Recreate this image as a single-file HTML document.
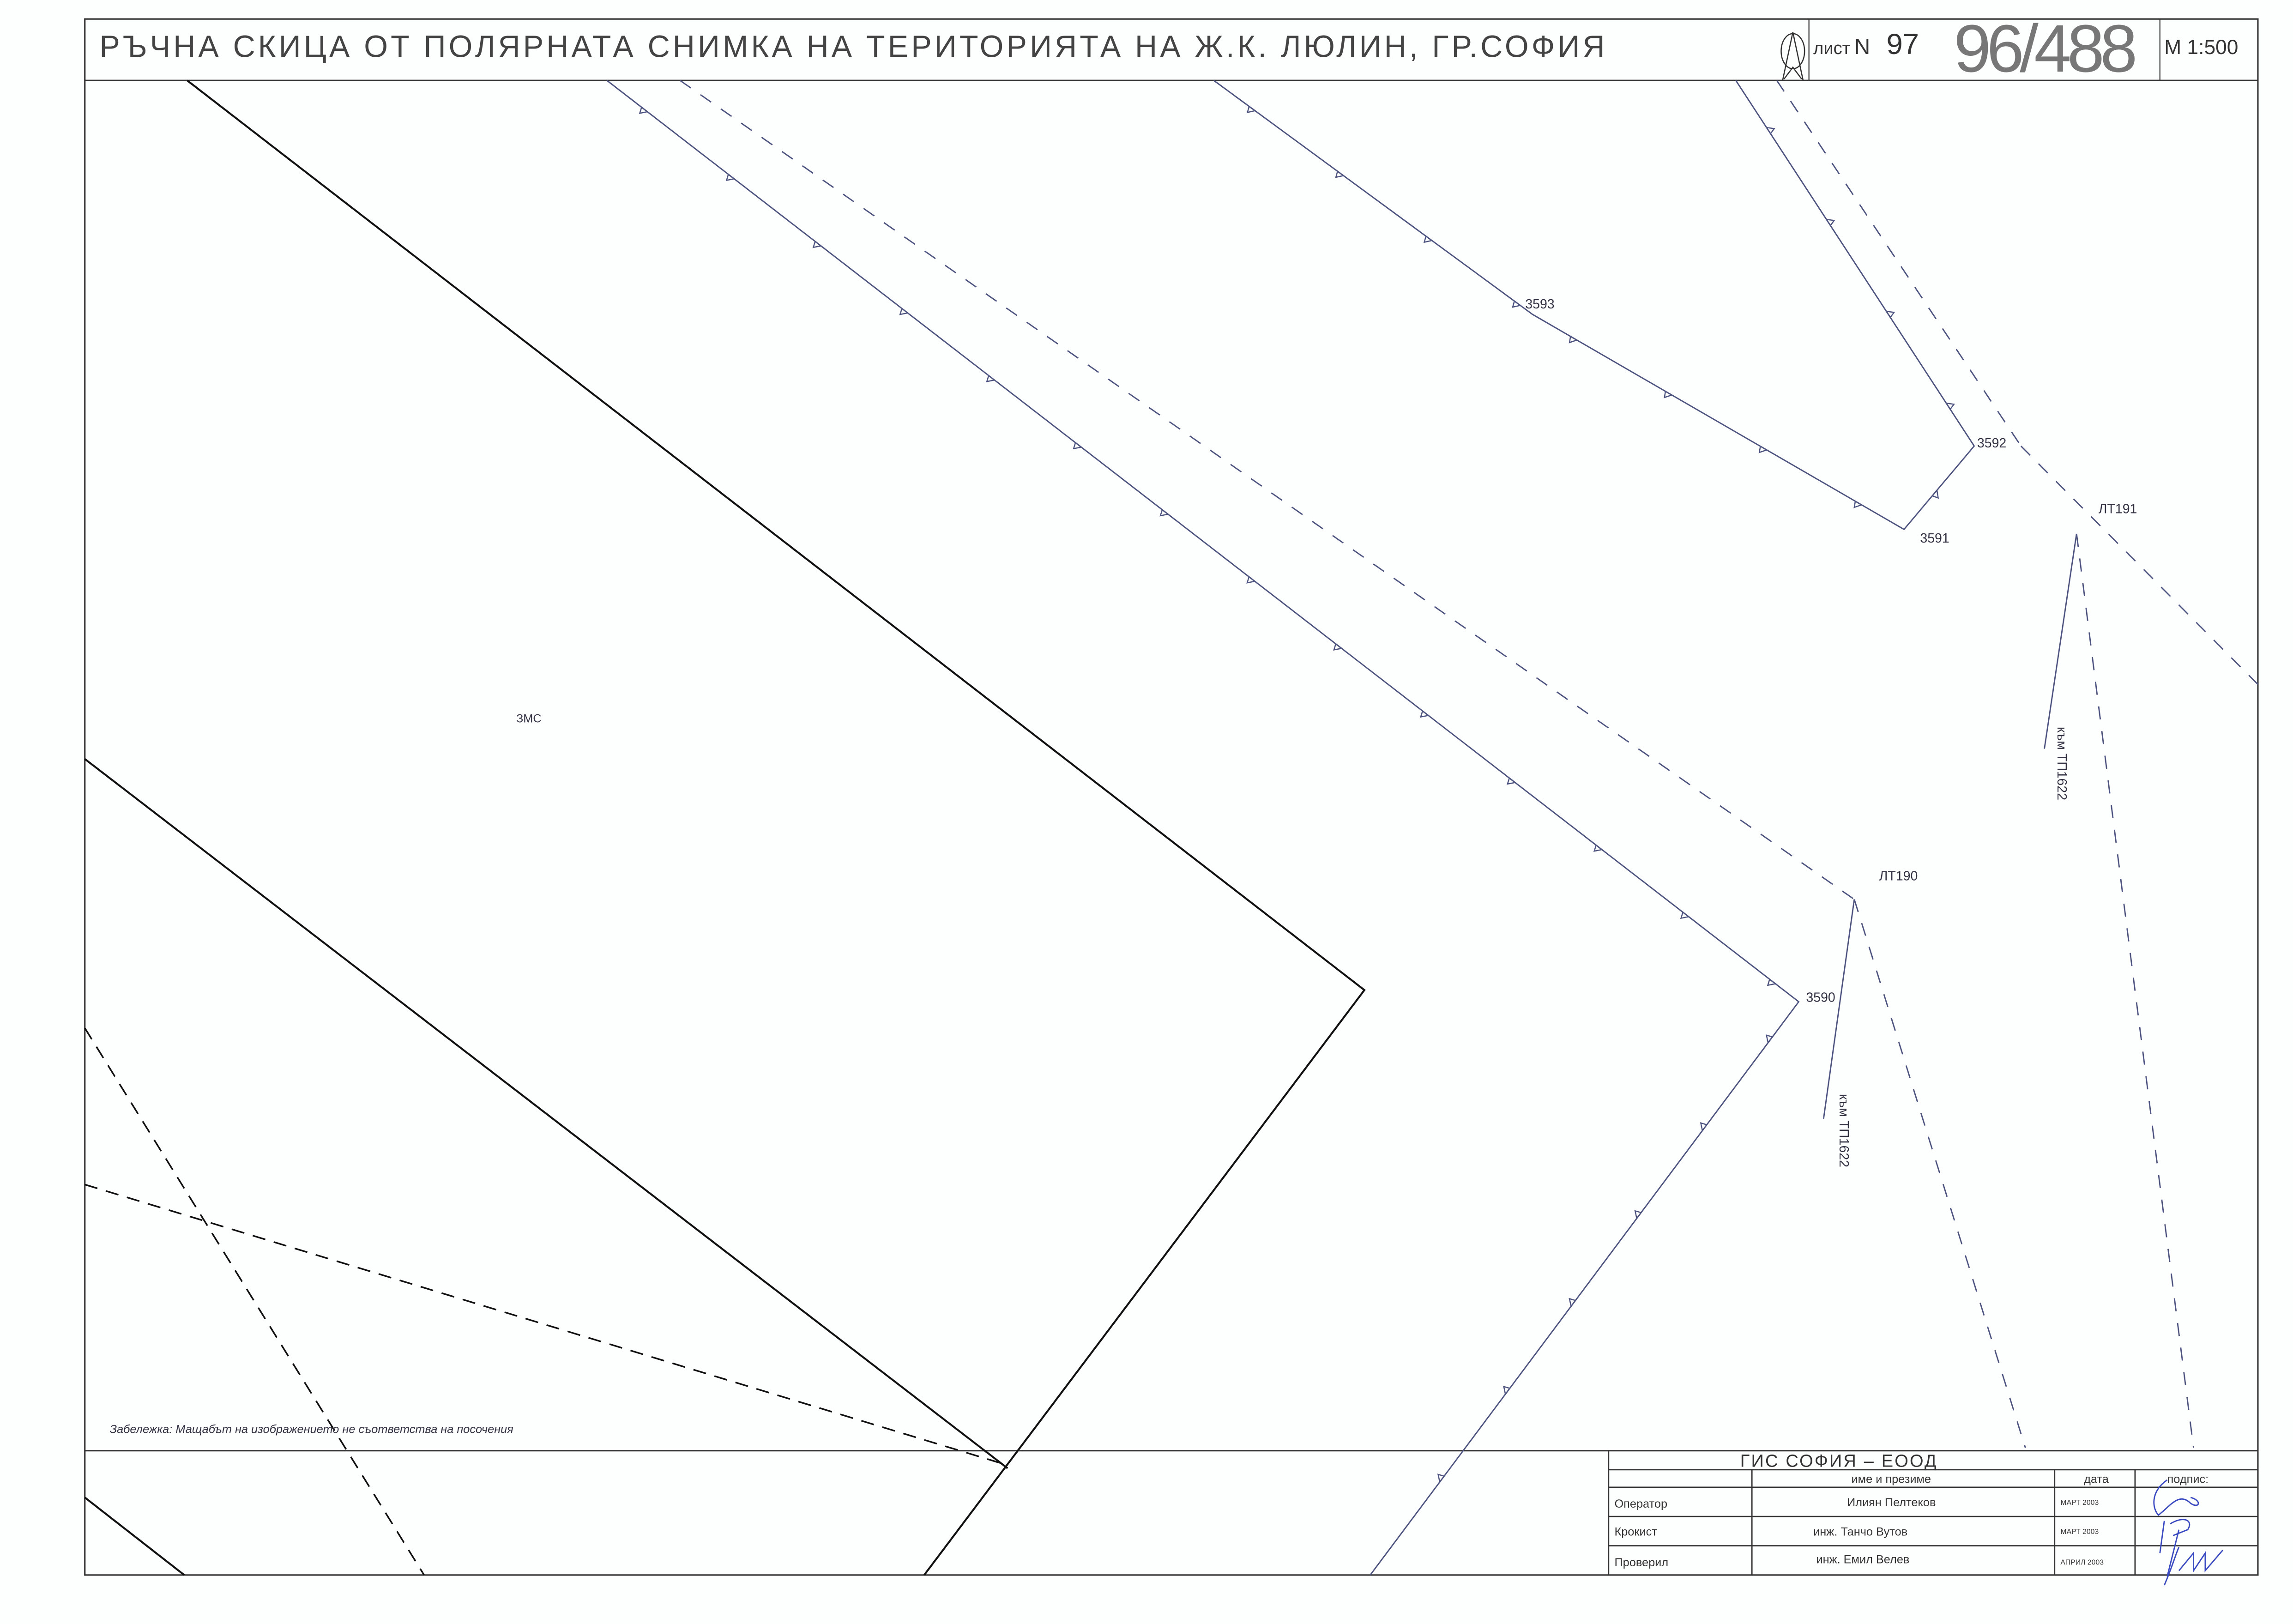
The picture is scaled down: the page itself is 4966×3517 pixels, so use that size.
<!DOCTYPE html>
<html><head><meta charset="utf-8"><style>
html,body{margin:0;padding:0;background:#fdfefe;}
svg{display:block;}
text{font-family:"Liberation Sans","DejaVu Sans",sans-serif;}
</style></head><body>
<svg id="s" width="4966" height="3517" viewBox="0 0 1568 1110.5" xmlns="http://www.w3.org/2000/svg">
<rect width="1568" height="1111" fill="#fdfefe"/>
<g fill="none" stroke="#333" stroke-width="1">
<rect x="58" y="13" width="1486" height="1064"/>
<line x1="58" y1="55" x2="1544" y2="55"/>
<line x1="1237" y1="13" x2="1237" y2="55" stroke-width="0.7"/>
<line x1="1477" y1="13" x2="1477" y2="55" stroke-width="0.7"/>
<line x1="58" y1="992" x2="1544" y2="992"/>
</g>
<text x="68" y="39" font-size="21" fill="#444" letter-spacing="1.95" font-weight="300">РЪЧНА СКИЦА ОТ ПОЛЯРНАТА СНИМКА НА ТЕРИТОРИЯТА НА Ж.К. ЛЮЛИН, ГР.СОФИЯ</text>
<g fill="none" stroke="#333" stroke-width="0.8">
<ellipse cx="1226" cy="35" rx="8" ry="12"/>
<polyline points="1219,55 1226,22 1233,55"/>
<polyline points="1220,54 1226,46 1232,54"/>
</g>
<text x="1240" y="37" font-size="12" fill="#333">лист</text>
<text x="1268" y="37" font-size="15" fill="#333" font-family="Liberation Serif">N</text>
<text x="1290" y="37" font-size="20" fill="#333">97</text>
<text x="1336" y="49" font-size="46" fill="#777" letter-spacing="-3" font-weight="300">96/488</text>
<text x="1480" y="37" font-size="14" fill="#333" font-family="Liberation Serif">M 1:500</text>

<g fill="none" stroke="#111" stroke-width="1.3">
<polyline points="128,55 933,677 632,1077"/>
<line x1="58" y1="519" x2="689" y2="1004"/>
<line x1="58" y1="1024" x2="126" y2="1077"/>
</g>
<g fill="none" stroke="#111" stroke-width="1.1" stroke-dasharray="9,6">
<line x1="58" y1="703" x2="290" y2="1077"/>
<line x1="58" y1="810" x2="686" y2="1001"/>
</g>

<g id="bl" fill="none" stroke="#4e5480" stroke-width="0.9">
<polyline points="415,55 1230,685 937,1077"/>
<polyline points="830,55 1048,215 1302,362 1350,305 1187,55"/>
<line x1="1420" y1="365" x2="1398" y2="512"/>
<line x1="1268" y1="615" x2="1247" y2="765"/>
</g>
<g fill="none" stroke="#4e5480" stroke-width="0.9" stroke-dasharray="9,8">
<line x1="465" y1="55" x2="1268" y2="615"/>
<line x1="1215" y1="55" x2="1382" y2="305"/>
<line x1="1382" y1="305" x2="1544" y2="468"/>
<line x1="1420" y1="365" x2="1500" y2="990"/>
<line x1="1268" y1="615" x2="1385" y2="990"/>
</g>
<g id="tri" fill="none" stroke="#4e5480" stroke-width="0.8"></g>
<g font-size="9" fill="#334">
<text x="1043" y="211">3593</text>
<text x="1352" y="306">3592</text>
<text x="1313" y="371">3591</text>
<text x="1435" y="351">ЛТ191</text>
<text x="1285" y="602">ЛТ190</text>
<text x="1235" y="685">3590</text>
<text x="353" y="494" font-size="8">ЗМС</text>
<text x="75" y="980" font-size="8" font-style="italic">Забележка: Мащабът на изображението не съответства на посочения</text>
<text transform="translate(1407,497) rotate(90)">към ТП1622</text>
<text transform="translate(1258,748) rotate(90)">към ТП1622</text>
</g>

<g fill="none" stroke="#333" stroke-width="0.9">
<line x1="1100" y1="992" x2="1100" y2="1077"/>
<line x1="1100" y1="1005" x2="1544" y2="1005"/>
<line x1="1100" y1="1017" x2="1544" y2="1017"/>
<line x1="1100" y1="1037" x2="1544" y2="1037"/>
<line x1="1100" y1="1057" x2="1544" y2="1057"/>
<line x1="1198" y1="1005" x2="1198" y2="1077"/>
<line x1="1405" y1="1005" x2="1405" y2="1077"/>
<line x1="1460" y1="1005" x2="1460" y2="1077"/>
</g>
<g fill="#333" font-size="8">
<text x="1190" y="1003" font-size="12" letter-spacing="1">ГИС  СОФИЯ – ЕООД</text>
<text x="1266" y="1014">име и презиме</text>
<text x="1425" y="1014">дата</text>
<text x="1482" y="1014">подпис:</text>
<text x="1104" y="1031">Оператор</text>
<text x="1263" y="1030">Илиян Пелтеков</text>
<text x="1409" y="1029" font-size="5">МАРТ 2003</text>
<text x="1104" y="1050">Крокист</text>
<text x="1240" y="1050">инж. Танчо Вутов</text>
<text x="1409" y="1049" font-size="5">МАРТ 2003</text>
<text x="1104" y="1071">Проверил</text>
<text x="1242" y="1069">инж. Емил Велев</text>
<text x="1409" y="1070" font-size="5">АПРИЛ 2003</text>
</g>
<g fill="none" stroke="#3a4ac0" stroke-width="0.9">
<path d="M1482,1012 C1470,1020 1472,1032 1476,1036 C1484,1030 1490,1020 1498,1028 C1504,1032 1506,1026 1498,1024"/>
<path d="M1480,1040 L1477,1062 M1484,1042 C1494,1036 1500,1040 1496,1046 L1486,1050 M1490,1046 L1482,1078"/>
<path d="M1480,1084 C1486,1070 1488,1062 1490,1058 M1490,1074 L1500,1062 L1500,1074 L1508,1062 L1508,1074 L1520,1060"/>
</g>
</svg>
<script>
(function(){
var g=document.getElementById('tri');
var segs=[[415,55,1230,685,-1],[1230,685,937,1077,-1],[830,55,1048,215,-1],[1048,215,1302,362,-1],[1350,305,1187,55,-1],[1302,362,1350,305,-1]];
segs.forEach(function(s){
var dx=s[2]-s[0],dy=s[3]-s[1],L=Math.hypot(dx,dy),ux=dx/L,uy=dy/L,nx=uy*s[4],ny=-ux*s[4];
for(var d=30;d<L-15;d+=75){
var px=s[0]+ux*d,py=s[1]+uy*d;
var p=document.createElementNS('http://www.w3.org/2000/svg','polygon');
p.setAttribute('points',[px,py,px+ux*5,py+uy*5,px+ux*1.5+nx*4,py+uy*1.5+ny*4].join(' '));
g.appendChild(p);}
});
})();
</script>
</body></html>
